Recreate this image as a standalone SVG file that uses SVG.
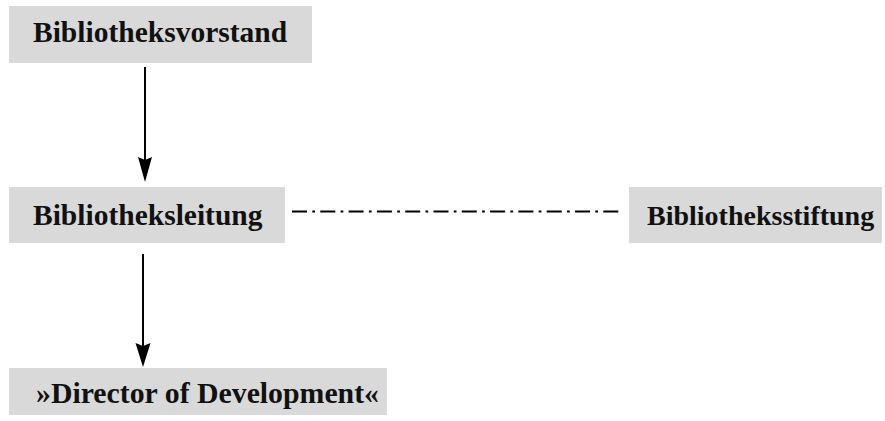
<svg xmlns="http://www.w3.org/2000/svg" width="885" height="421" viewBox="0 0 885 421">
<style>
.box{fill:#d9d9d9}
.lbl{font-family:"Liberation Serif","Times New Roman",serif;font-weight:bold;font-size:29.5px;fill:#111}
.conn{stroke:#000;stroke-width:2;fill:none}
.head{fill:#000}
</style>
<rect width="885" height="421" fill="#fff"/>
<g id="node-vorstand">
<rect class="box" x="9" y="6" width="303" height="57"/>
<text class="lbl" x="33" y="42">Bibliotheksvorstand</text>
</g>
<g id="node-leitung">
<rect class="box" x="9" y="187" width="276" height="56"/>
<text class="lbl" x="33" y="225">Bibliotheksleitung</text>
</g>
<g id="node-stiftung">
<rect class="box" x="629" y="187" width="253" height="56"/>
<text class="lbl" x="647" y="225" style="font-size:28px">Bibliotheksstiftung</text>
</g>
<g id="node-director">
<rect class="box" x="9" y="368" width="378" height="47"/>
<text class="lbl" x="36" y="403" textLength="343" lengthAdjust="spacingAndGlyphs">»Director of Development«</text>
</g>
<g id="connectors">
<line class="conn" x1="145" y1="67" x2="145" y2="165"/>
<polygon class="head" points="138,157 145,160 152,157 145,182"/>
<line class="conn" x1="143" y1="254" x2="143" y2="350"/>
<polygon class="head" points="135.5,343 143,346 150.5,343 143,367"/>
<line class="conn" x1="292" y1="211.5" x2="622" y2="211.5" stroke-dasharray="15 5.3 2.7 5.3"/>
</g>
</svg>
